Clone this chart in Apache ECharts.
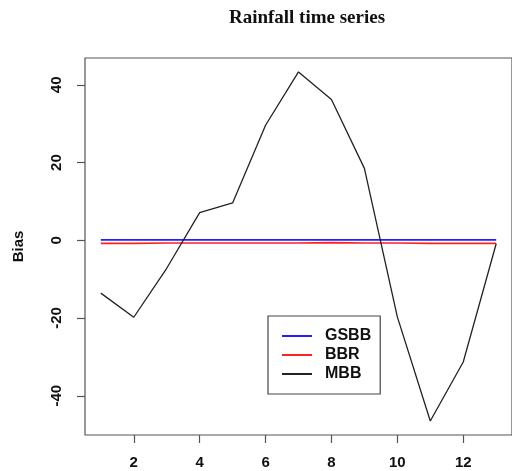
<!DOCTYPE html>
<html>
<head>
<meta charset="utf-8">
<style>
  html, body { margin: 0; padding: 0; background: #fff; }
  #chart { width: 512px; height: 471px; }
</style>
<script src="https://cdn.jsdelivr.net/npm/echarts@6/dist/echarts.min.js"></script>
</head>
<body>
<div id="chart"></div>
<script>
// Monthly bias of three bootstrap methods
const months = [1, 2, 3, 4, 5, 6, 7, 8, 9, 10, 11, 12, 13];
const gsbb = [0.1, 0.1, 0.1, 0.1, 0.1, 0.1, 0.1, 0.1, 0.1, 0.1, 0.1, 0.1, 0.1];
const bbr = [-0.8, -0.8, -0.7, -0.7, -0.7, -0.7, -0.7, -0.6, -0.7, -0.7, -0.8, -0.8, -0.8];
const mbb = [-13.6, -19.8, -7.2, 7.1, 9.6, 29.6, 43.3, 36.2, 18.5, -19.7, -46.5, -31.3, -0.9];

const xTicks = [2, 4, 6, 8, 10, 12];
const yTicks = [-40, -20, 0, 20, 40];

function pairs(ys) {
  return months.map((m, i) => [m, ys[i]]);
}

// pad the data range by 4% on each side
function padded(values) {
  const lo = Math.min(...values), hi = Math.max(...values);
  const d = (hi - lo) * 0.04;
  return [lo - d, hi + d];
}
const xr = padded(months);
const yr = padded(mbb.concat(gsbb, bbr));

const axisColor = '#555';
const labelFont = { fontFamily: 'Liberation Sans, Arial, sans-serif', fontWeight: 'bold', fontSize: 15, color: '#111' };

const chart = echarts.init(document.getElementById('chart'), null, { renderer: 'canvas' });
chart.setOption({
  animation: false,
  backgroundColor: '#fff',
  title: {
    text: 'Rainfall time series',
    left: 302,
    textAlign: 'center',
    top: 4,
    textStyle: { fontFamily: 'Liberation Serif, Times New Roman, serif', fontWeight: 'bold', fontSize: 19, color: '#111' }
  },
  grid: {
    left: 85, top: 58, width: 435, height: 377,
    show: true, borderColor: axisColor, borderWidth: 1.2, backgroundColor: 'transparent'
  },
  legend: {
    orient: 'vertical',
    left: 268, top: 316,
    padding: [12, 9, 12, 14],
    icon: 'rect',
    itemWidth: 30, itemHeight: 2, itemGap: 3,
    borderColor: '#444', borderWidth: 1.2, borderRadius: 0,
    backgroundColor: '#fff',
    textStyle: Object.assign({}, labelFont, { padding: [0, 0, 0, 8], fontSize: 16, lineHeight: 14 }),
    data: ['GSBB', 'BBR', 'MBB']
  },
  xAxis: {
    type: 'value',
    min: xr[0], max: xr[1],
    splitLine: { show: false },
    axisLine: { show: false, onZero: false },
    axisTick: { show: true, length: 8, customValues: xTicks, lineStyle: { color: axisColor, width: 1.2 } },
    axisLabel: Object.assign({ customValues: xTicks, margin: 20 }, labelFont)
  },
  yAxis: {
    type: 'value',
    min: yr[0], max: yr[1],
    name: 'Bias',
    nameLocation: 'middle',
    nameGap: 59,
    nameRotate: 90,
    nameTextStyle: Object.assign({}, labelFont),
    splitLine: { show: false },
    axisLine: { show: false, onZero: false },
    axisTick: { show: true, length: 8, customValues: yTicks, lineStyle: { color: axisColor, width: 1.2 } },
    axisLabel: Object.assign({ customValues: yTicks, rotate: 90, margin: 21, align: 'center', verticalAlign: 'bottom' }, labelFont)
  },
  series: [
    { name: 'GSBB', type: 'line', data: pairs(gsbb), symbol: 'none', lineStyle: { color: '#2020ff', width: 1.6 }, itemStyle: { color: '#2020ff' } },
    { name: 'BBR', type: 'line', data: pairs(bbr), symbol: 'none', lineStyle: { color: '#ff2020', width: 1.6 }, itemStyle: { color: '#ff2020' } },
    { name: 'MBB', type: 'line', data: pairs(mbb), symbol: 'none', lineStyle: { color: '#222', width: 1.3 }, itemStyle: { color: '#222' } }
  ]
});
</script>
</body>
</html>
